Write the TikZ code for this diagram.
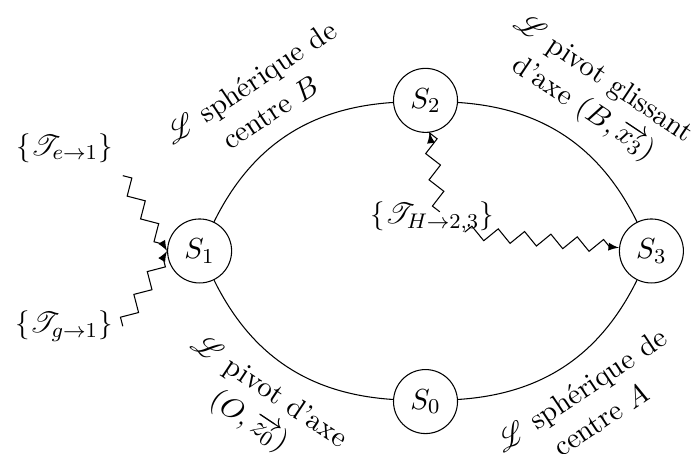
\documentclass[tikz,border=0pt,11pt]{standalone}
\usepackage{amsmath}
\usepackage{mathrsfs}
\usetikzlibrary{decorations.pathmorphing}
\begin{document}
\begin{tikzpicture}[
  state/.style={circle,draw,minimum size=0.85cm,inner sep=0pt},
  lab/.style={midway,sloped,align=center},
  zz/.style={decorate,decoration={zigzag,segment length=10pt,amplitude=2.5pt},-latex},
]
\useasboundingbox (-5.651,-2.696) rectangle (3.632,3.333);
\node[state] (S1) at (-3,0) {$S_1$};
\node[state] (S2) at (0,2) {$S_2$};
\node[state] (S3) at (3,0) {$S_3$};
\node[state] (S0) at (0,-2) {$S_0$};
\draw (S1) to[bend left=30] node[lab,above=3pt]{$\mathscr{L}$ sphérique de\\centre $B$} (S2);
\draw (S2) to[bend left=30] node[lab,above=3pt]{$\mathscr{L}$ pivot glissant\\d'axe $(B,\overrightarrow{x_3})$} (S3);
\draw (S0) to[bend right=30] node[lab,below=3pt]{$\mathscr{L}$ sphérique de\\centre $A$} (S3);
\draw (S1) to[bend right=30] node[lab,below=3pt]{$\mathscr{L}$ pivot d'axe\\$(O,\overrightarrow{z_0})$} (S0);
\coordinate (e1) at (-4.02,1);
\coordinate (g1) at (-4.02,-1);
\node[above left,yshift=1pt] (Te) at (e1) {$\{\mathscr{T}_{e\rightarrow 1}\}$};
\node[left] (Tg) at (g1) {$\{\mathscr{T}_{g\rightarrow 1}\}$};
\draw[zz] (e1) -- (S1.west);
\draw[zz] (g1) -- (S1.west);
\coordinate (h2) at (0.19,0.52);
\coordinate (h3) at (0.52,0.25);
\node (TH) at (0.09,0.45) {$\{\mathscr{T}_{H\rightarrow 2,3}\}$};
\draw[zz] (h2) -- (S2);
\draw[zz] (h3) -- (S3);
\end{tikzpicture}
\end{document}
